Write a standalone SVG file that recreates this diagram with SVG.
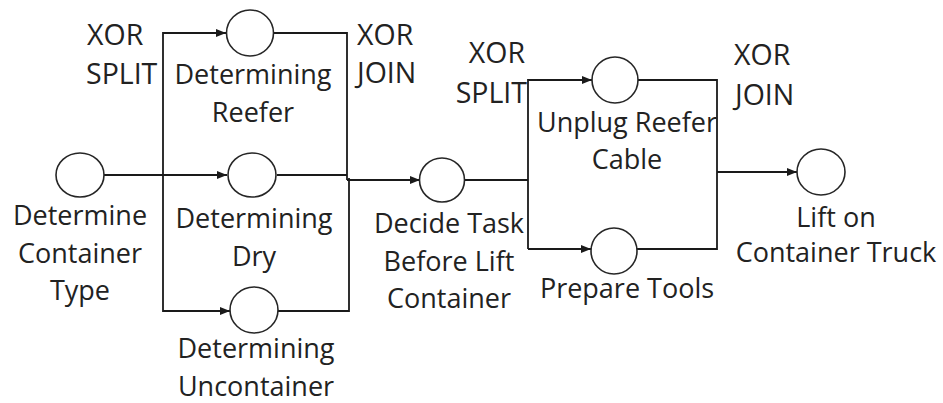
<svg xmlns="http://www.w3.org/2000/svg" width="943" height="403" viewBox="0 0 943 403">
<style>
.n{fill:#fff;stroke:#262626;stroke-width:1.6}
.c{fill:none;stroke:#1a1a1a;stroke-width:1.8}
text{font-family:"Open Sans","Liberation Sans",sans-serif;font-size:27px;fill:#222;text-anchor:middle}
.l{text-anchor:start;font-size:28.5px}
.r{text-anchor:end;font-size:28.5px}
</style>
<defs>
<marker id="a" viewBox="0 0 10 8" refX="10" refY="4" markerWidth="10" markerHeight="8" markerUnits="userSpaceOnUse" orient="auto">
<path d="M0,0 L10,4 L0,8 Z" fill="#1a1a1a"/>
</marker>
</defs>
<rect width="943" height="403" fill="#fff"/>
<g id="connectors">
<path class="c" d="M104,175 H227" marker-end="url(#a)"/>
<path class="c" d="M163,312 V33 H226" marker-end="url(#a)"/>
<path class="c" d="M163,311 H230" marker-end="url(#a)"/>
<path class="c" d="M273,33 H347 V180"/>
<path class="c" d="M277,175 H347"/>
<path class="c" d="M278,311 H349 V178"/>
<path class="c" d="M347,180 H420" marker-end="url(#a)"/>
<path class="c" d="M465,180 H528"/>
<path class="c" d="M528,249 V80 H592" marker-end="url(#a)"/>
<path class="c" d="M528,249 H591" marker-end="url(#a)"/>
<path class="c" d="M638,80 H717 V249 H637"/>
<path class="c" d="M717,172 H797" marker-end="url(#a)"/>
</g>
<g id="labels">
<text class="l" x="87" y="45">XOR</text>
<text class="l" x="86" y="84">SPLIT</text>
<text class="l" x="357" y="45">XOR</text>
<text class="l" x="357" y="83">JOIN</text>
<text class="r" x="525" y="63">XOR</text>
<text class="r" x="527" y="103">SPLIT</text>
<text class="l" x="734" y="65">XOR</text>
<text class="l" x="735" y="105">JOIN</text>
</g>
<g id="determine-container-type">
<ellipse class="n" cx="80" cy="175" rx="24" ry="22"/>
<text x="80" y="225">Determine</text>
<text x="80" y="263">Container</text>
<text x="80" y="300">Type</text>
</g>
<g id="determining-reefer">
<ellipse class="n" cx="250" cy="33" rx="23.5" ry="23"/>
<text x="253" y="84">Determining</text>
<text x="253" y="122">Reefer</text>
</g>
<g id="determining-dry">
<ellipse class="n" cx="252" cy="175" rx="24" ry="22"/>
<text x="254" y="228">Determining</text>
<text x="254" y="266">Dry</text>
</g>
<g id="determining-uncontainer">
<ellipse class="n" cx="254" cy="310" rx="24" ry="23"/>
<text x="256" y="358">Determining</text>
<text x="256" y="396">Uncontainer</text>
</g>
<g id="decide-task">
<ellipse class="n" cx="442" cy="180" rx="22.5" ry="22"/>
<text x="449" y="233">Decide Task</text>
<text x="449" y="271">Before Lift</text>
<text x="449" y="308">Container</text>
</g>
<g id="unplug-reefer-cable">
<ellipse class="n" cx="615" cy="80" rx="23" ry="23"/>
<text x="627" y="132">Unplug Reefer</text>
<text x="627" y="169">Cable</text>
</g>
<g id="prepare-tools">
<ellipse class="n" cx="614" cy="251" rx="23" ry="23"/>
<text x="627" y="298">Prepare Tools</text>
</g>
<g id="lift-on-container-truck">
<ellipse class="n" cx="821" cy="172" rx="24" ry="23"/>
<text x="836" y="227">Lift on</text>
<text x="836" y="262">Container Truck</text>
</g>
</svg>
